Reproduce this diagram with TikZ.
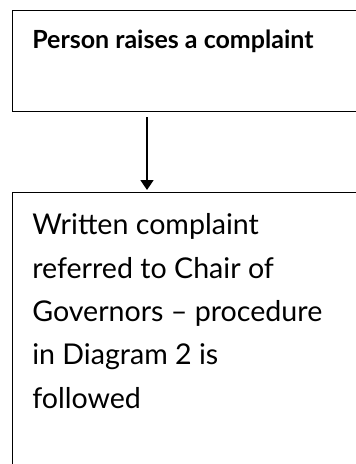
\documentclass[tikz,border=0pt]{standalone}
\usepackage{fontspec}
\setmainfont{Lato}
\usetikzlibrary{arrows.meta,positioning}

\begin{document}
\begin{tikzpicture}[x=1pt,y=1pt,>={Triangle[width=13pt,length=10pt]},semithick]
  \tikzstyle{box}=[draw=black,line width=1.3pt,rectangle,anchor=north west,inner sep=0pt,minimum width=380pt]
  \tikzstyle{lbl}=[anchor=base west,inner sep=0pt,align=left,text=black]
  \useasboundingbox (0,0) rectangle (356,-464);

  \node[box,minimum height=101pt] (P) at (12,-10) {};
  \node[lbl,font=\bfseries\fontsize{25}{28}\selectfont] (Ptxt) at ([xshift=20pt,yshift=-38pt]P.north west) {Person raises a complaint};
  \node[box,minimum height=300pt] (W) at (12,-192) {};
  % base anchor sits on the last line
  \node[lbl,font=\fontsize{28.6}{43.3}\selectfont] (Wtxt) at ([xshift=20pt,yshift=-216pt]W.north west) {Written complaint\\referred to Chair of\\Governors -- procedure\\in Diagram 2 is\\followed};

  \draw[->,line width=1.6pt,shorten <=5pt,shorten >=2pt] ([xshift=135pt]P.south west) -- ([xshift=135pt]W.north west);
\end{tikzpicture}
\end{document}
